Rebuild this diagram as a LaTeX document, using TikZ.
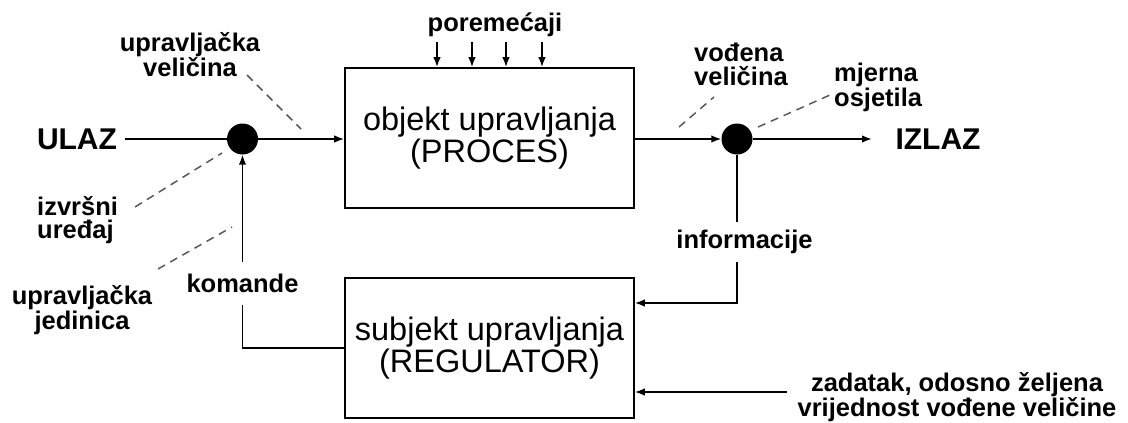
\documentclass[tikz,border=0pt]{standalone}
\usepackage{fontspec}
\setmainfont{Liberation Sans}
\usetikzlibrary{arrows.meta}
\begin{document}
\begin{tikzpicture}[x=1pt,y=-1pt,
  box/.style={draw,line width=1.6pt,minimum width=289pt,minimum height=140pt,inner sep=0pt,align=center,font=\fontsize{32.5}{31.5}\selectfont},
  lbl/.style={font=\bfseries\fontsize{25.5}{23.5}\selectfont,inner sep=0pt},
  big/.style={font=\bfseries\fontsize{30}{30}\selectfont,inner sep=0pt},
  blob/.style={circle,fill=black,minimum size=31pt,inner sep=0pt},
  con/.style={line width=1.6pt},
  arr/.style={con,-{Latex[length=10pt,width=7.5pt]}},
  lead/.style={line width=1.5pt,black!65,dash pattern=on 8pt off 6pt}
]
\useasboundingbox (0,0) rectangle (1128,423);

% blocks
\node[box] (P) at (489.5,138) {objekt upravljanja\\(PROCES)};
\node[box] (R) at (489.5,348) {subjekt upravljanja\\(REGULATOR)};
\node[blob] (dL) at (242.5,139) {};
\node[blob] (dR) at (737,139) {};

% big labels
\node[big] (ulaz) at (77,139) {ULAZ};
\node[big] (izlaz) at (938,139) {IZLAZ};
\coordinate (out) at (872,139);

% small labels
\node[lbl] (pore) at (495,25) {poremećaji};
\node[lbl,align=center] (uv) at (190,54.5) {upravljačka\\veličina};
\node[lbl,align=left,anchor=west] (iu) at (37,220) {izvršni\\uređaj};
\node[lbl,align=center] (uj) at (82,310.5) {upravljačka\\jedinica};
\node[lbl,align=left,anchor=west] (vv) at (694,64.5) {vođena\\veličina};
\node[lbl,align=left,anchor=west] (mo) at (834,87.5) {mjerna\\osjetila};
\node[lbl,minimum height=40pt] (inf) at (744.5,242) {informacije};
\node[lbl,minimum height=43pt] (kom) at (242.5,283.5) {komande};
\node[lbl,align=center,font=\bfseries\fontsize{25.5}{22}\selectfont] (zad) at (957,397) {zadatak, odosno željena\\vrijednost vođene veličine};
\coordinate (zs) at (787,392);

% main path
\draw[con] ([xshift=8pt]ulaz.east) -- (dL.west);
\draw[arr] (dL.east) -- (dL.east -| P.west);
\draw[arr] (dL.east -| P.east) -- (dR.west);
\draw[arr] (dR.east) -- (out);

% feedback
\draw[con] (dR.south) -- (dR.south |- inf.north);
\draw[arr] (dR.south |- inf.south) |- ([yshift=45pt]R.east);
\draw[arr] (zs) -- ([yshift=-44pt]R.east);
\draw[con] (R.west) -| (kom.south);
\draw[arr] (kom.north) -- (dL.south);

% disturbances
\foreach \x in {437,472,506,542}
  \draw[arr] (\x,42) -- (\x,0 |- P.north);

% leader lines
\draw[lead] (247,75) -- (301,129);
\draw[lead] (135,207) -- (222,153);
\draw[lead] (158,269) -- (232,227);
\draw[lead] (679,127) -- (714,97);
\draw[lead] (758,127) -- (830,95);
\end{tikzpicture}
\end{document}
